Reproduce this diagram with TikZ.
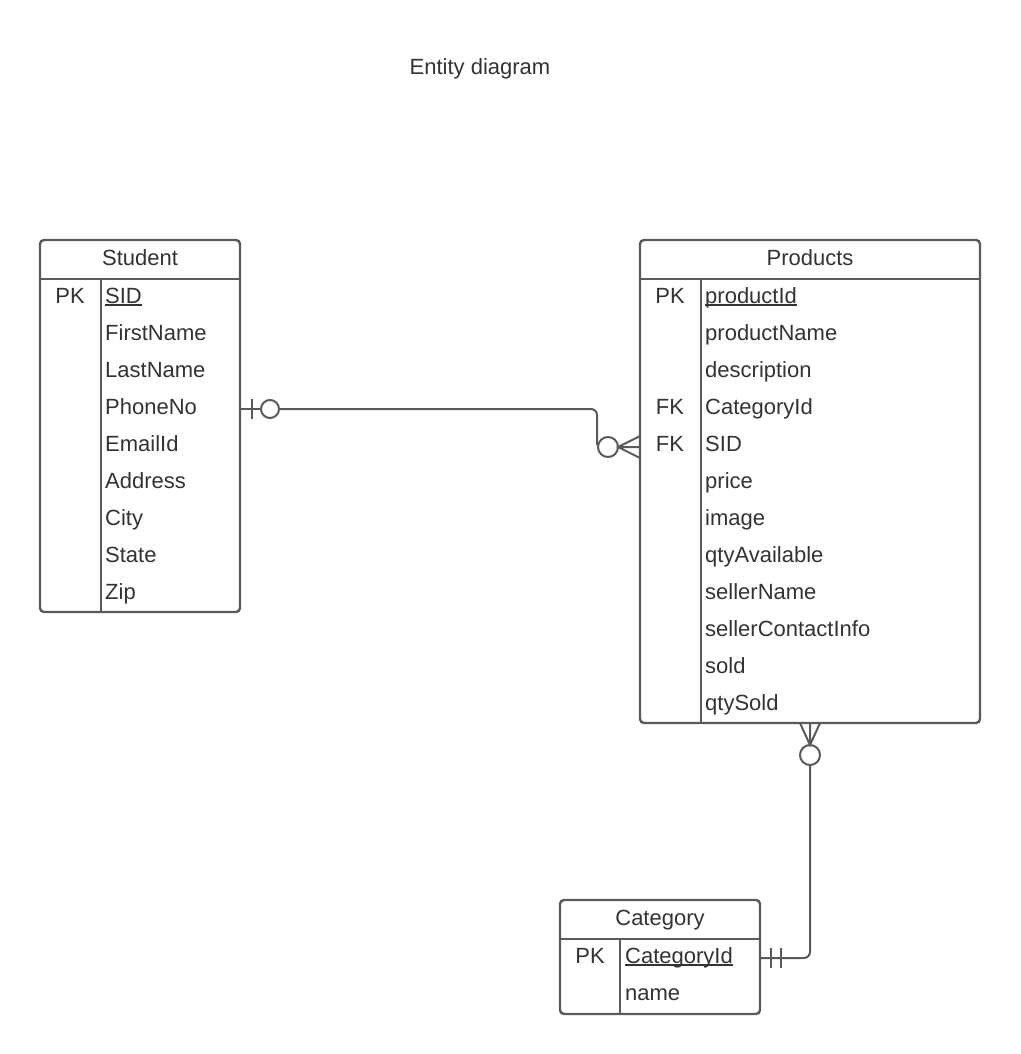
\documentclass[tikz,border=0pt]{standalone}
\usepackage{fontspec}
\setmainfont{Liberation Sans}
\newcommand{\keyul}[1]{\setbox0\hbox{#1}\rlap{\rule[-2.6pt]{\wd0}{1.3pt}}\box0}
\begin{document}
\begin{tikzpicture}[x=1pt,y=-1pt,
  box/.style={draw=lc, line width=2.4pt, rounded corners=4pt, inner sep=0pt},
  sep/.style={draw=lc, line width=2.4pt},
  conn/.style={draw=lc, line width=2pt},
  txt/.style={inner sep=0pt, anchor=base west, text=tc, font=\fontsize{22}{26}\selectfont},
  hdr/.style={inner sep=0pt, anchor=base, text=tc, font=\fontsize{22}{26}\selectfont},
  key/.style={inner sep=0pt, anchor=base, text=tc, font=\fontsize{22}{26}\selectfont}]
\definecolor{lc}{HTML}{5A5A5A}
\definecolor{tc}{HTML}{333333}
\useasboundingbox (0,0) rectangle (1020,1054);
\fill[white] (0,0) rectangle (1020,1054);
\node[hdr] (title) at (480,75) {Entity diagram};
% Student
\node[box, minimum width=200pt, minimum height=372pt] (student) at (140,426) {};
\draw[sep] (40,279) -- (240,279);
\draw[sep] (101,279) -- (101,612);
\node[hdr] (sh) at (140,265) {Student};
\node[key] (spk) at (70,303) {PK};
\foreach \t [count=\i] in {{\keyul{SID}},FirstName,LastName,PhoneNo,EmailId,Address,City,State,Zip}
  \node[txt] (s\i) at (105,{303+37*(\i-1)}) {\t};
% Products
\node[box, minimum width=340pt, minimum height=483pt] (products) at (810,481.5) {};
\draw[sep] (640,279) -- (980,279);
\draw[sep] (701,279) -- (701,723);
\node[hdr] (ph) at (810,265) {Products};
\node[key] (ppk) at (670,303) {PK};
\node[key] (pfk1) at (670,414) {FK};
\node[key] (pfk2) at (670,451) {FK};
\foreach \t [count=\i] in {{\keyul{productId}},productName,description,CategoryId,SID,price,image,qtyAvailable,sellerName,sellerContactInfo,sold,qtySold}
  \node[txt] (p\i) at (705,{303+37*(\i-1)}) {\t};
% Category
\node[box, minimum width=200pt, minimum height=114pt] (category) at (660,957) {};
\draw[sep] (560,939) -- (760,939);
\draw[sep] (620,939) -- (620,1014);
\node[hdr] (ch) at (660,925) {Category};
\node[key] (cpk) at (590,963) {PK};
\node[txt] (c1) at (625,963) {\keyul{CategoryId}};
\node[txt] (c2) at (625,1000) {name};
% Connector Student - Products
\coordinate (a1) at (240,409);
\coordinate (a2) at (640,447);
\draw[conn] (a1) -- (261,409);
\draw[conn, rounded corners=6pt] (279,409) -- (597,409) -- (597,445);
\draw[conn] (252,399) -- (252,419);
\draw[conn] (270,409) circle (9);
\draw[conn] (608,447) circle (10);
\draw[conn] (618,447) -- (a2) (640,436) -- (618,447) -- (640,458);
% Connector Products - Category
\coordinate (b1) at (810,723);
\coordinate (b2) at (760,958);
\draw[conn] (800,723) -- (810,745) -- (820,723) (b1) -- (810,745);
\draw[conn] (810,755) circle (10);
\draw[conn, rounded corners=6pt] (810,765) -- (810,958) -- (b2);
\draw[conn] (771,948) -- (771,968) (781,948) -- (781,968);
\end{tikzpicture}
\end{document}
